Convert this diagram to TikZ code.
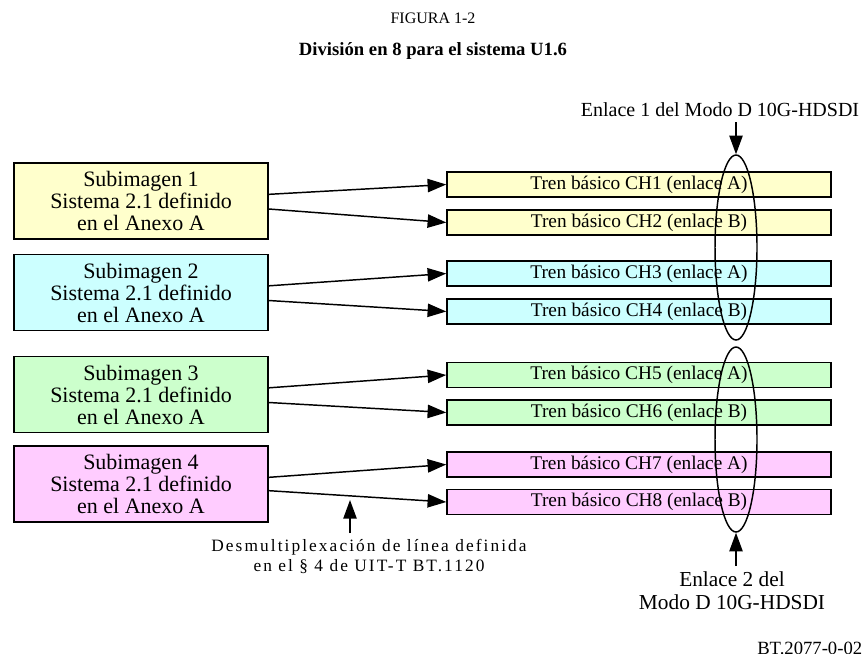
\documentclass[tikz,border=0pt]{standalone}
\usepackage{fontspec}
\setmainfont{Liberation Serif}
\newfontfamily\spacedfont[LetterSpace=12]{Liberation Serif}
\usetikzlibrary{shapes.geometric, arrows.meta, positioning}

\definecolor{subyellow}{HTML}{FFFFCC}
\definecolor{subcyan}{HTML}{CCFFFF}
\definecolor{subgreen}{HTML}{CCFFCC}
\definecolor{subpink}{HTML}{FFCCFF}

\begin{document}
\begin{tikzpicture}[
    x = 0.75pt, y = -0.75pt,
    subbox/.style = {rectangle, draw, line width=1.1pt, minimum width=190.5pt, minimum height=57pt, align=center, font=\fontsize{16.5}{16.5}\selectfont},
    trenbox/.style = {rectangle, draw, line width=1.1pt, minimum width=288pt, minimum height=18.75pt, inner sep=0pt, font=\fontsize{14.5}{16}\selectfont},
    linkring/.style = {ellipse, draw, line width=1.1pt, minimum width=31.5pt, minimum height=138.75pt, inner sep=0pt},
    note/.style = {align=center, font=\fontsize{16}{17}\selectfont},
    arrow/.style = {-{Triangle[length=14pt, width=10pt]}, line width=1.1pt}
]
\clip (0,0) rectangle (866,653);

% Titles
\node[font=\fontsize{12}{14}\selectfont] (fig) at (433,18) {FIGURA 1-2};
\node[font=\fontsize{14}{16}\selectfont\bfseries] (title) at (433,51) {División en 8 para el sistema U1.6};

% Sub-images
\node[subbox, fill=subyellow] (sub1) at (141,201) {Subimagen 1\\Sistema 2.1 definido\\en el Anexo A};
\node[subbox, fill=subcyan] (sub2) at (141,292.5) {Subimagen 2\\Sistema 2.1 definido\\en el Anexo A};
\node[subbox, fill=subgreen] (sub3) at (141,394.5) {Subimagen 3\\Sistema 2.1 definido\\en el Anexo A};
\node[subbox, fill=subpink] (sub4) at (141,484) {Subimagen 4\\Sistema 2.1 definido\\en el Anexo A};

% Basic streams
\node[trenbox, fill=subyellow] (ch1) at (639,184.5) {Tren básico CH1 (enlace A)};
\node[trenbox, fill=subyellow] (ch2) at (639,222.5) {Tren básico CH2 (enlace B)};
\node[trenbox, fill=subcyan] (ch3) at (639,273.5) {Tren básico CH3 (enlace A)};
\node[trenbox, fill=subcyan] (ch4) at (639,311.5) {Tren básico CH4 (enlace B)};
\node[trenbox, fill=subgreen] (ch5) at (639,375) {Tren básico CH5 (enlace A)};
\node[trenbox, fill=subgreen] (ch6) at (639,412.5) {Tren básico CH6 (enlace B)};
\node[trenbox, fill=subpink] (ch7) at (639,464.5) {Tren básico CH7 (enlace A)};
\node[trenbox, fill=subpink] (ch8) at (639,502) {Tren básico CH8 (enlace B)};

% Links
\node[linkring] (link1) at (736,247.5) {};
\node[linkring] (link2) at (736,439.5) {};
\node[note, font=\fontsize{15}{17}\selectfont] (linkonetext) at (720,110) {Enlace 1 del Modo D 10G-HDSDI};
\node[note, anchor=north] (linktwotext) at (732,567) {Enlace 2 del\\Modo D 10G-HDSDI};
\coordinate (linkonetail) at (736,122);
\coordinate (linktwotail) at (736,566);

% Demux note
\node[align=center, anchor=north, font=\fontsize{13}{15}\spacedfont] (demux) at (369,535) {Desmultiplexación de línea definida\\en el § 4 de UIT-T BT.1120};
\coordinate (demuxtip) at (350,500);
\coordinate (demuxtail) at (350,533);

\node[anchor=base west, inner sep=0pt, font=\fontsize{14}{16}\selectfont] (ref) at (757,654) {BT.2077-0-02};

% Draw arrows
\draw[arrow] ([yshift=5pt]sub1.east) -- (ch1.west);
\draw[arrow] ([yshift=-6pt]sub1.east) -- (ch2.west);
\draw[arrow] ([yshift=5pt]sub2.east) -- (ch3.west);
\draw[arrow] ([yshift=-6pt]sub2.east) -- (ch4.west);
\draw[arrow] ([yshift=5pt]sub3.east) -- (ch5.west);
\draw[arrow] ([yshift=-6pt]sub3.east) -- (ch6.west);
\draw[arrow] ([yshift=5pt]sub4.east) -- (ch7.west);
\draw[arrow] ([yshift=-5pt]sub4.east) -- (ch8.west);
\draw[arrow] (linkonetail) -- (link1.north);
\draw[arrow] (linktwotail) -- (link2.south);
\draw[arrow] (demuxtail) -- (demuxtip);

\end{tikzpicture}
\end{document}
